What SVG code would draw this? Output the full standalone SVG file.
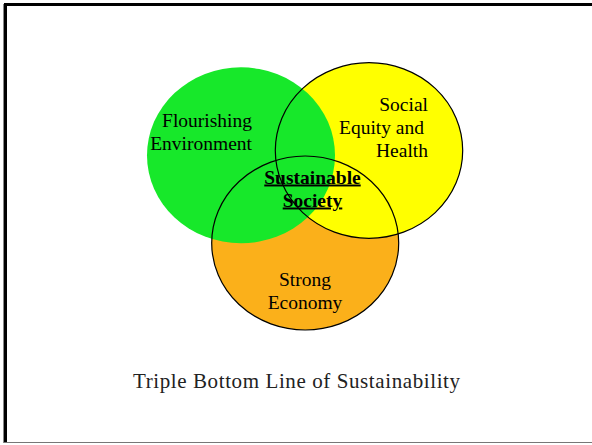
<svg xmlns="http://www.w3.org/2000/svg" width="592" height="445" viewBox="0 0 592 445">
<style>
.lbl{font-family:"Liberation Serif","Times New Roman",serif;font-size:19.5px;fill:#000}
.ctr{font-family:"Liberation Serif","Times New Roman",serif;font-size:19.5px;font-weight:bold;fill:#000;text-decoration:underline}
.title{font-family:"Liberation Serif","Times New Roman",serif;font-size:21px;fill:#222}
.outline{fill:none;stroke:#000;stroke-width:1.2}
</style>
<rect width="592" height="445" fill="#fff"/>
<g id="frame">
<line x1="3.5" y1="4" x2="3.5" y2="443" stroke="#888" stroke-width="1"/>
<line x1="5.5" y1="3" x2="5.5" y2="443" stroke="#000" stroke-width="3"/>
<line x1="4" y1="4.5" x2="592" y2="4.5" stroke="#000" stroke-width="3"/>
<line x1="4" y1="442.5" x2="592" y2="442.5" stroke="#777" stroke-width="1"/>
</g>
<g id="economy">
<ellipse cx="305.2" cy="243" rx="93.5" ry="87" fill="#FBB01A"/>
</g>
<g id="social">
<ellipse cx="369" cy="150.5" rx="93.7" ry="87.8" fill="#FFFF00"/>
</g>
<g id="environment">
<ellipse cx="241" cy="155.3" rx="94" ry="88" fill="#17E82A"/>
</g>
<g id="outlines">
<ellipse class="outline" cx="369" cy="150.5" rx="93.7" ry="87.8"/>
<ellipse class="outline" cx="305.2" cy="243" rx="93.5" ry="87"/>
</g>
<g id="labels">
<text class="lbl" x="252" y="127" text-anchor="end">Flourishing</text>
<text class="lbl" x="252" y="150" text-anchor="end">Environment</text>
<text class="lbl" x="428" y="111" text-anchor="end">Social</text>
<text class="lbl" x="424" y="134" text-anchor="end">Equity and</text>
<text class="lbl" x="428" y="157" text-anchor="end">Health</text>
<text class="lbl" x="305" y="286" text-anchor="middle">Strong</text>
<text class="lbl" x="305" y="309" text-anchor="middle">Economy</text>
</g>
<g id="center">
<text class="ctr" x="312.5" y="183.5" text-anchor="middle">Sustainable</text>
<text class="ctr" x="312.5" y="206.5" text-anchor="middle">Society</text>
</g>
<text class="title" x="133" y="388" textLength="327" lengthAdjust="spacing">Triple Bottom Line of Sustainability</text>
</svg>
